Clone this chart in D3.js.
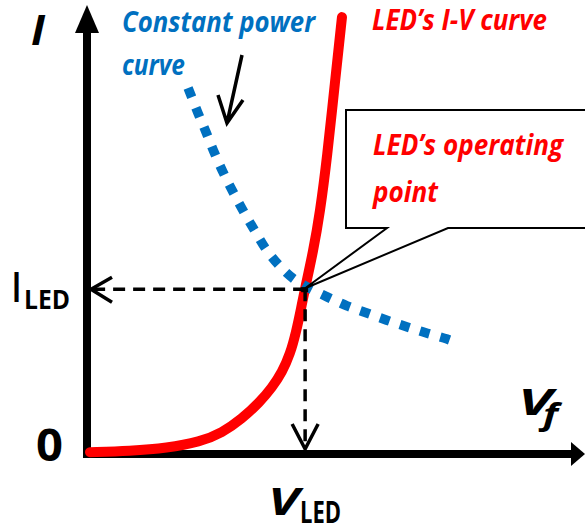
<!DOCTYPE html>
<html><head><meta charset="utf-8">
<script src="https://cdn.jsdelivr.net/npm/d3@7"></script>
<style>
html,body{margin:0;padding:0;background:#fff;}
svg{display:block;}
text{font-family:"Open Sans","Noto Sans",sans-serif;font-weight:bold;}
</style></head>
<body><svg id="c" width="585" height="531"></svg>
<script>
// LED I-V curve (arbitrary units)
const ledV = [0.06,0.86,1.61,2.27,2.71,3.11,3.47,3.71,3.92,4.08,4.20,4.30,4.38,4.54,4.68,4.82,4.98,5.12];
const ledI = [0.04,0.07,0.13,0.27,0.47,0.78,1.16,1.47,1.83,2.23,2.72,3.25,3.70,4.50,5.39,6.59,8.29,9.73];
// Constant power curve
const powV = [2.03,2.23,2.39,2.55,2.73,2.93,3.15,3.37,3.59,3.85,4.13,4.42,4.82,5.22,5.62,6.02,6.43,6.83,7.23,7.45];
const powI = [8.15,7.59,7.17,6.73,6.28,5.84,5.39,4.97,4.57,4.21,3.92,3.72,3.50,3.30,3.14,2.98,2.83,2.69,2.56,2.47];
// Operating point
const opV = [4.38];
const opI = [3.67];

const svg = d3.select("#c");
const x = d3.scaleLinear().domain([0,10]).range([87,585]);
const y = d3.scaleLinear().domain([0,10]).range([454,5]);

const RED="#FF0000", BLUE="#0070C0";

// Axes (arrows)
svg.append("line").attr("x1",x(0)).attr("y1",y(0)+4).attr("x2",x(0)).attr("y2",30)
  .attr("stroke","#000").attr("stroke-width",8);
svg.append("path").attr("d",`M${x(0)},5 L${x(0)-12},33 L${x(0)+12},33 Z`).attr("fill","#000");
svg.append("line").attr("x1",x(0)-4).attr("y1",y(0)).attr("x2",574).attr("y2",y(0))
  .attr("stroke","#000").attr("stroke-width",8);
svg.append("path").attr("d",`M585,${y(0)} L571,${y(0)-12} L571,${y(0)+12} Z`).attr("fill","#000");

// LED curve
const ledData = ledV.map((v,i)=>[v,ledI[i]]);
svg.append("path").datum(ledData)
  .attr("d", d3.line().x(d=>x(d[0])).y(d=>y(d[1])).curve(d3.curveBasis))
  .attr("fill","none").attr("stroke",RED).attr("stroke-width",10).attr("stroke-linecap","round");

// Constant power curve
const powData = powV.map((v,i)=>[v,powI[i]]);
svg.append("path").datum(powData)
  .attr("d", d3.line().x(d=>x(d[0])).y(d=>y(d[1])).curve(d3.curveCatmullRom))
  .attr("fill","none").attr("stroke",BLUE).attr("stroke-width",9.5).attr("stroke-dasharray","10,11");

// Dashed projection lines
const ox = x(opV[0]), oy = y(opI[0]);
svg.append("line").attr("x1",ox).attr("y1",oy).attr("x2",x(0)+6).attr("y2",oy)
  .attr("stroke","#000").attr("stroke-width",3.5).attr("stroke-dasharray","12,8");
svg.append("line").attr("x1",ox).attr("y1",oy).attr("x2",ox).attr("y2",y(0)-6)
  .attr("stroke","#000").attr("stroke-width",3.5).attr("stroke-dasharray","12,8");
svg.append("path").attr("d",`M${x(0)+25},${oy-12} L${x(0)+4},${oy} L${x(0)+25},${oy+13}`)
  .attr("fill","none").attr("stroke","#000").attr("stroke-width",3.5);
svg.append("path").attr("d",`M${ox-13},${y(0)-30} L${ox},${y(0)-5} L${ox+13},${y(0)-30}`)
  .attr("fill","none").attr("stroke","#000").attr("stroke-width",3.5);
svg.append("rect").attr("x",ox-4).attr("y",oy-2).attr("width",7).attr("height",5).attr("fill","#000");

// Callout
svg.append("path")
  .attr("d",`M346,110 L590,110 L590,228 L448,228 L${ox},${oy-1} L387,228 L346,228 Z`)
  .attr("fill","#fff").attr("stroke","#000").attr("stroke-width",2);

// Small arrow
svg.append("path").attr("d","M242,55 L227,123 M218,95 L227,123 L243,100")
  .attr("fill","none").attr("stroke","#000").attr("stroke-width",3.5);

// Texts
function t(str, xx, yy, size, color, len, italic=true){
  const e = svg.append("text").attr("x",xx).attr("y",yy).attr("font-size",size)
    .attr("fill",color).attr("font-style",italic?"italic":"normal").text(str);
  if(len) e.attr("textLength",len).attr("lengthAdjust","spacingAndGlyphs");
  return e;
}
t("Constant power",122,32,28,BLUE,193);
t("curve",122,75,28,BLUE,63);
t("LED\u2019s I-V curve",372,30,28,RED,175);
t("LED\u2019s operating",373,155,28,RED,190);
t("point",373,202,28,RED,65);
t("I",31,45,42,"#000",14);
t("I",12,302,42,"#000",9,false);
t("LED",24,309,26,"#000",46,false);
t("0",36,461,44,"#000",27,false);
t("V",268,515,38,"#000",31);
t("LED",300,523,31,"#000",41,false);
t("V",518,415,36,"#000",34);
t("f",543,425,30,"#000",15);
</script></body></html>
